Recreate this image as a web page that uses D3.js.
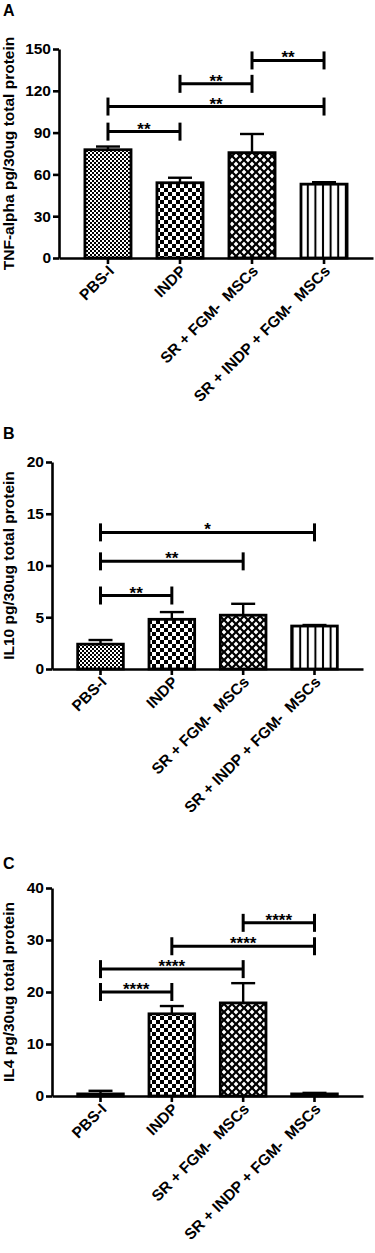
<!DOCTYPE html>
<html>
  <head>
    <meta charset="utf-8">
    <title>Cytokine levels</title>
    <script src="https://d3js.org/d3.v7.min.js"></script>
    <style>
      body { margin: 0; background: #fff; }
      text { font-family: "Liberation Sans", Arial, sans-serif; font-weight: bold; fill: #000; }
    </style>
  </head>
  <body>
    <script>
      // groups on the x axis
      var categories = ["PBS-I", "INDP", "SR + FGM-  MSCs", "SR + INDP + FGM-  MSCs"];

      // panel A: TNF-alpha
      var tnfMean = [77.7, 54, 75.6, 53];
      var tnfSD = [2.3, 3.6, 13.4, 1.4];
      var tnfSig = [
        {from: 0, to: 1, y: 90.7, label: "**"},
        {from: 0, to: 3, y: 108.7, label: "**"},
        {from: 1, to: 2, y: 125, label: "**"},
        {from: 2, to: 3, y: 141.8, label: "**"}
      ];
      var tnfTicks = [0, 30, 60, 90, 120, 150];

      // panel B: IL10
      var il10Mean = [2.4, 4.8, 5.2, 4.15];
      var il10SD = [0.4, 0.7, 1.1, 0.1];
      var il10Sig = [
        {from: 0, to: 1, y: 7.1, label: "**"},
        {from: 0, to: 2, y: 10.4, label: "**"},
        {from: 0, to: 3, y: 13.2, label: "*"}
      ];
      var il10Ticks = [0, 5, 10, 15, 20];

      // panel C: IL4
      var il4Mean = [0.4, 15.8, 17.9, 0.4];
      var il4SD = [0.6, 1.5, 3.8, 0.2];
      var il4Sig = [
        {from: 0, to: 1, y: 20, label: "****"},
        {from: 0, to: 2, y: 24.4, label: "****"},
        {from: 1, to: 3, y: 28.8, label: "****"},
        {from: 2, to: 3, y: 33.3, label: "****"}
      ];
      var il4Ticks = [0, 10, 20, 30, 40];

      var svg = d3.select("body").append("svg")
                  .attr("width", 375)
                  .attr("height", 1253);

      // fill patterns, one per group
      var defs = svg.append("defs");

      var p1 = defs.append("pattern").attr("id", "pat0")
                   .attr("patternUnits", "userSpaceOnUse").attr("width", 4).attr("height", 4);
      p1.append("rect").attr("width", 4).attr("height", 4).attr("fill", "#fff");
      p1.append("rect").attr("width", 2).attr("height", 2).attr("fill", "#000");
      p1.append("rect").attr("x", 2).attr("y", 2).attr("width", 2).attr("height", 2).attr("fill", "#000");

      var p2 = defs.append("pattern").attr("id", "pat1")
                   .attr("patternUnits", "userSpaceOnUse").attr("width", 8).attr("height", 8);
      p2.append("rect").attr("width", 8).attr("height", 8).attr("fill", "#fff");
      p2.append("rect").attr("width", 4).attr("height", 4).attr("fill", "#000");
      p2.append("rect").attr("x", 4).attr("y", 4).attr("width", 4).attr("height", 4).attr("fill", "#000");

      var p3 = defs.append("pattern").attr("id", "pat2")
                   .attr("patternUnits", "userSpaceOnUse").attr("width", 8).attr("height", 8);
      p3.append("rect").attr("width", 8).attr("height", 8).attr("fill", "#000");
      p3.append("path").attr("fill", "#fff")
        .attr("d", "M4,1.6L6.4,4L4,6.4L1.6,4Z M0,-2.4L2.4,0L0,2.4L-2.4,0Z M8,-2.4L10.4,0L8,2.4L5.6,0Z M0,5.6L2.4,8L0,10.4L-2.4,8Z M8,5.6L10.4,8L8,10.4L5.6,8Z");

      var p4 = defs.append("pattern").attr("id", "pat3")
                   .attr("patternUnits", "userSpaceOnUse").attr("width", 7.6).attr("height", 8);
      p4.append("rect").attr("width", 7.6).attr("height", 8).attr("fill", "#fff");
      p4.append("rect").attr("x", 2.8).attr("width", 2).attr("height", 8).attr("fill", "#000");

      function drawPanel(opt) {
        var g = svg.append("g");

        var x = d3.scaleBand()
                  .domain(categories)
                  .range([opt.left, opt.right])
                  .paddingInner(0.36)
                  .paddingOuter(0.36);
        var y = d3.scaleLinear()
                  .domain([0, d3.max(opt.ticks)])
                  .range([opt.bottom, opt.top]);
        var bw = x.bandwidth();

        g.append("text")
         .attr("x", 3).attr("y", opt.letterY)
         .style("font-size", "16px")
         .text(opt.letter);

        // bars
        g.selectAll("rect.bar")
         .data(opt.means)
         .enter().append("rect")
         .attr("class", "bar")
         .attr("x", function(d, i) { return x(categories[i]); })
         .attr("y", function(d) { return y(d); })
         .attr("width", bw)
         .attr("height", function(d) { return y(0) - y(d); })
         .attr("fill", function(d, i) { return "url(#pat" + i + ")"; })
         .attr("stroke", "#000")
         .attr("stroke-width", 2.8);

        // error bars (mean + SD)
        opt.means.forEach(function(m, i) {
          var cx = x(categories[i]) + bw / 2;
          g.append("line")
           .attr("x1", cx).attr("x2", cx)
           .attr("y1", y(m)).attr("y2", y(m + opt.sds[i]))
           .attr("stroke", "#000").attr("stroke-width", 2.4);
          g.append("line")
           .attr("x1", cx - 12).attr("x2", cx + 12)
           .attr("y1", y(m + opt.sds[i])).attr("y2", y(m + opt.sds[i]))
           .attr("stroke", "#000").attr("stroke-width", 2.4);
        });

        // axes
        var yAxis = g.append("g")
                     .attr("transform", "translate(" + opt.left + ",0)")
                     .call(d3.axisLeft(y).tickValues(opt.ticks).tickSize(6).tickSizeOuter(0).tickPadding(2));
        yAxis.attr("font-size", null).attr("font-family", null);
        yAxis.selectAll("text").style("font-size", "15.5px");

        var xAxis = g.append("g")
                     .attr("transform", "translate(0," + opt.bottom + ")")
                     .call(d3.axisBottom(x).tickSize(6).tickSizeOuter(0).tickFormat(""));

        g.selectAll(".domain, .tick line")
         .attr("stroke", "#000")
         .attr("stroke-width", 2.6);

        // rotated group names
        g.selectAll("text.cat")
         .data(categories)
         .enter().append("text")
         .attr("class", "cat")
         .attr("text-anchor", "end")
         .attr("transform", function(d) {
           return "translate(" + (x(d) + bw / 2 + 7) + "," + (opt.bottom + 14) + ") rotate(-45)";
         })
         .style("font-size", "15.5px")
         .style("white-space", "pre")
         .text(function(d) { return d; });

        // axis title
        g.append("text")
         .attr("transform", "translate(14," + (opt.top + opt.bottom) / 2 + ") rotate(-90)")
         .attr("text-anchor", "middle")
         .style("font-size", "15.5px")
         .text(opt.title);

        // significance brackets
        opt.sig.forEach(function(s) {
          var x1 = x(categories[s.from]) + bw / 2;
          var x2 = x(categories[s.to]) + bw / 2;
          var yy = y(s.y);
          g.append("line")
           .attr("x1", x1).attr("x2", x2).attr("y1", yy).attr("y2", yy)
           .attr("stroke", "#000").attr("stroke-width", 3);
          [x1, x2].forEach(function(xx) {
            g.append("line")
             .attr("x1", xx).attr("x2", xx).attr("y1", yy - 9).attr("y2", yy + 9)
             .attr("stroke", "#000").attr("stroke-width", 3);
          });
          g.append("text")
           .attr("x", (x1 + x2) / 2).attr("y", yy + 3)
           .attr("text-anchor", "middle")
           .style("font-size", "17px")
           .text(s.label);
        });
      }

      drawPanel({letter: "A", letterY: 16, title: "TNF-alpha pg/30ug total protein",
                 means: tnfMean, sds: tnfSD, sig: tnfSig, ticks: tnfTicks,
                 left: 59, right: 373, top: 49, bottom: 258});
      drawPanel({letter: "B", letterY: 439, title: "IL10 pg/30ug total protein",
                 means: il10Mean, sds: il10SD, sig: il10Sig, ticks: il10Ticks,
                 left: 52, right: 363, top: 462, bottom: 669});
      drawPanel({letter: "C", letterY: 869, title: "IL4 pg/30ug total protein",
                 means: il4Mean, sds: il4SD, sig: il4Sig, ticks: il4Ticks,
                 left: 52, right: 363, top: 888, bottom: 1096});
    </script>
  </body>
</html>
